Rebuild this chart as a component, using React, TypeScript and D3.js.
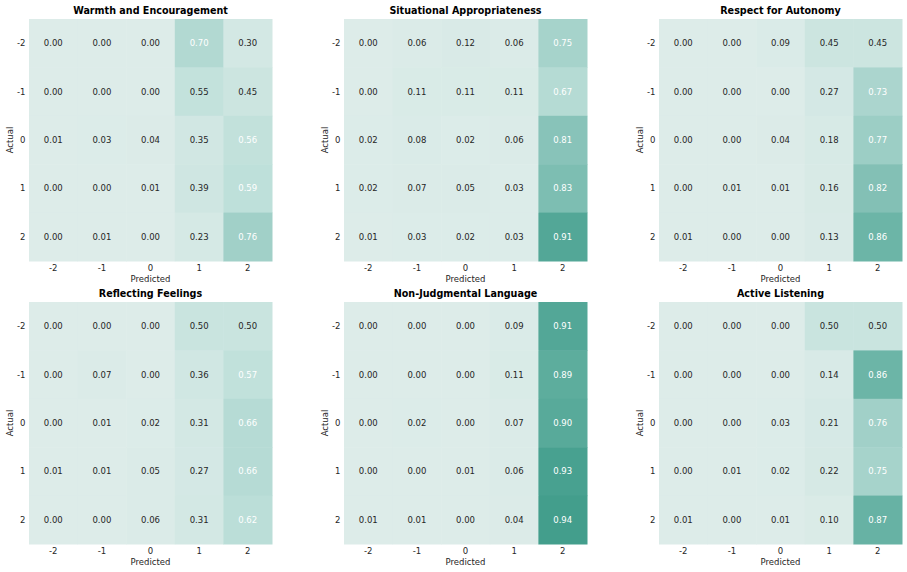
import * as d3 from 'd3';

const labels = ['-2', '-1', '0', '1', '2'];

const titles = [
  'Warmth and Encouragement',
  'Situational Appropriateness',
  'Respect for Autonomy',
  'Reflecting Feelings',
  'Non-Judgmental Language',
  'Active Listening',
];

const warmth = [
  [0.0, 0.0, 0.0, 0.7, 0.3],
  [0.0, 0.0, 0.0, 0.55, 0.45],
  [0.01, 0.03, 0.04, 0.35, 0.56],
  [0.0, 0.0, 0.01, 0.39, 0.59],
  [0.0, 0.01, 0.0, 0.23, 0.76],
];

const situational = [
  [0.0, 0.06, 0.12, 0.06, 0.75],
  [0.0, 0.11, 0.11, 0.11, 0.67],
  [0.02, 0.08, 0.02, 0.06, 0.81],
  [0.02, 0.07, 0.05, 0.03, 0.83],
  [0.01, 0.03, 0.02, 0.03, 0.91],
];

const autonomy = [
  [0.0, 0.0, 0.09, 0.45, 0.45],
  [0.0, 0.0, 0.0, 0.27, 0.73],
  [0.0, 0.0, 0.04, 0.18, 0.77],
  [0.0, 0.01, 0.01, 0.16, 0.82],
  [0.01, 0.0, 0.0, 0.13, 0.86],
];

const feelings = [
  [0.0, 0.0, 0.0, 0.5, 0.5],
  [0.0, 0.07, 0.0, 0.36, 0.57],
  [0.0, 0.01, 0.02, 0.31, 0.66],
  [0.01, 0.01, 0.05, 0.27, 0.66],
  [0.0, 0.0, 0.06, 0.31, 0.62],
];

const nonJudgmental = [
  [0.0, 0.0, 0.0, 0.09, 0.91],
  [0.0, 0.0, 0.0, 0.11, 0.89],
  [0.0, 0.02, 0.0, 0.07, 0.9],
  [0.0, 0.0, 0.01, 0.06, 0.93],
  [0.01, 0.01, 0.0, 0.04, 0.94],
];

const listening = [
  [0.0, 0.0, 0.0, 0.5, 0.5],
  [0.0, 0.0, 0.0, 0.14, 0.86],
  [0.0, 0.0, 0.03, 0.21, 0.76],
  [0.0, 0.01, 0.02, 0.22, 0.75],
  [0.01, 0.0, 0.01, 0.1, 0.87],
];

const matrices = [warmth, situational, autonomy, feelings, nonJudgmental, listening];

// teal palette, light -> dark
const color = d3
  .scaleLinear<string>()
  .domain([0, 0.3, 0.5, 0.6, 0.7, 0.75, 0.8, 0.86, 0.91, 0.94])
  .range(['#ddece9', '#d3e8e4', '#c9e4df', '#bddfd9', '#b2d9d2', '#a6d3cb', '#8ec6bc', '#6cb5a7', '#53a797', '#439e8c'])
  .clamp(true);

const W = 907;
const H = 572;
const panelX = [29, 344, 659];
const panelY = [19, 302];
const pw = 243;
const ph = 242;
const font = 'DejaVu Sans, sans-serif';

function Heatmap({ title, data, x0, y0 }: { title: string; data: number[][]; x0: number; y0: number }) {
  const x = d3.scaleBand().domain(labels).range([x0, x0 + pw]);
  const y = d3.scaleBand().domain(labels).range([y0, y0 + ph]);
  return (
    <g>
      {data.map((row, i) =>
        row.map((v, j) => (
          <g key={`${i}-${j}`}>
            <rect
              x={x(labels[j])}
              y={y(labels[i])}
              width={x.bandwidth() + 0.5}
              height={y.bandwidth() + 0.5}
              fill={color(v)}
            />
            <text
              x={x(labels[j])! + x.bandwidth() / 2}
              y={y(labels[i])! + y.bandwidth() / 2}
              textAnchor="middle"
              dominantBaseline="central"
              fontSize={8.5}
              fill={v > 0.555 ? '#ffffff' : '#262626'}
            >
              {v.toFixed(2)}
            </text>
          </g>
        ))
      )}
      {labels.map((l) => (
        <text key={'x' + l} x={x(l)! + x.bandwidth() / 2} y={y0 + ph + 9.8} textAnchor="middle" fontSize={8.5} fill="#262626">
          {l}
        </text>
      ))}
      {labels.map((l) => (
        <text
          key={'y' + l}
          x={x0 - 3.5}
          y={y(l)! + y.bandwidth() / 2}
          textAnchor="end"
          dominantBaseline="central"
          fontSize={8.5}
          fill="#262626"
        >
          {l}
        </text>
      ))}
      <text x={x0 + pw / 2} y={y0 + ph + 20.5} textAnchor="middle" fontSize={8.5} fill="#262626">
        Predicted
      </text>
      <text
        transform={`translate(${x0 - 16},${y0 + ph / 2}) rotate(-90)`}
        textAnchor="middle"
        fontSize={8.5}
        fill="#262626"
      >
        Actual
      </text>
      <text x={x0 + pw / 2} y={y0 - 5} textAnchor="middle" fontSize={9.6} fontWeight="bold" fill="#000">
        {title}
      </text>
    </g>
  );
}

export default function App() {
  return (
    <svg
      width={W}
      height={H}
      style={{ position: 'absolute', left: 0, top: 0, background: '#fff' }}
      fontFamily={font}
    >
      {titles.map((t, k) => (
        <Heatmap key={t} title={t} data={matrices[k]} x0={panelX[k % 3]} y0={panelY[Math.floor(k / 3)]} />
      ))}
    </svg>
  );
}
